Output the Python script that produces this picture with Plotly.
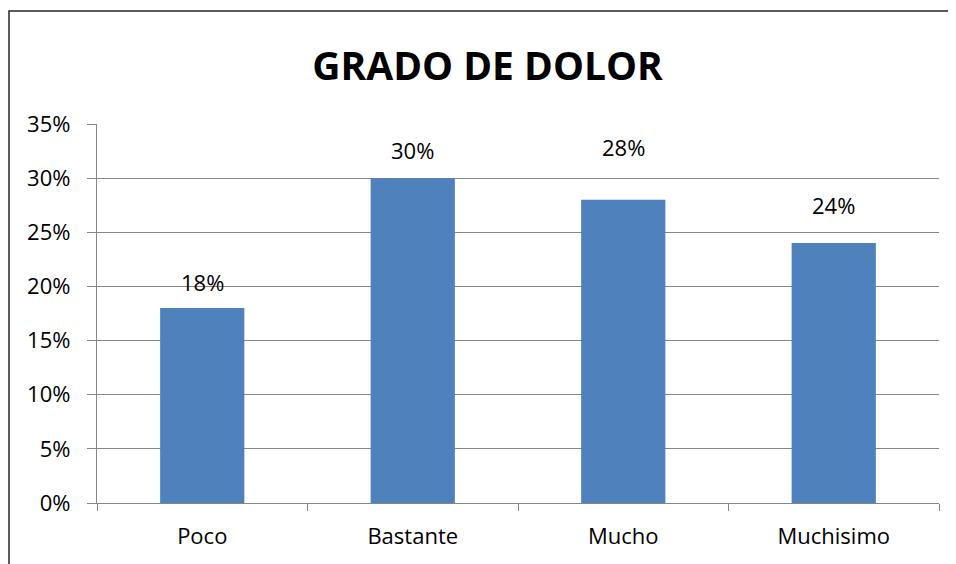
import plotly.graph_objects as go

categories = ["Poco", "Bastante", "Mucho", "Muchisimo"]
values = [0.18, 0.30, 0.28, 0.24]
labels = ["18%", "30%", "28%", "24%"]

# label placement (pixels above the bar top), as in the original
label_shift = [26, 28, 53, 38]

# the page body has an 8px margin, so the figure is drawn 8px smaller
OFF = 8
W, H = 956 - OFF, 564 - OFF
L, T = 97 - OFF, 124 - OFF
R = W - (939 - OFF)
B = H - (503 - OFF)
pw, ph = W - L - R, H - T - B

font = "Open Sans"
grid = "#868686"

fig = go.Figure()
fig.add_trace(go.Bar(
    x=categories, y=values,
    marker=dict(color="#4F81BD", line=dict(width=0)),
    width=0.4,
    hoverinfo="x+y",
))

for c, v, t, s in zip(categories, values, labels, label_shift):
    fig.add_annotation(x=c, y=v, text=t, showarrow=False, yshift=s,
                       yanchor="middle", font=dict(family=font, size=22, color="#000"))

# outer chart border
fig.add_shape(type="rect", xref="paper", yref="paper",
              x0=(9 - OFF - L) / pw, x1=(W + 5 - L) / pw,
              y0=(T + ph - H - 5) / ph, y1=(T + ph - (11 - OFF)) / ph,
              line=dict(color="#262626", width=1.5), layer="below")

fig.update_layout(
    width=W, height=H,
    margin=dict(l=L, r=R, t=T, b=B),
    paper_bgcolor="white", plot_bgcolor="white",
    showlegend=False,
    bargap=0.6,
    title=dict(text="<b>GRADO DE DOLOR</b>", x=(487.5 - OFF) / W, xanchor="center",
               y=1 - (66 - OFF) / H, yanchor="middle", yref="container",
               font=dict(family=font, size=39, color="#000")),
    xaxis=dict(
        showline=True, linecolor=grid, linewidth=1.3,
        ticks="outside", tickson="boundaries", ticklen=7, tickcolor=grid, tickwidth=1.3,
        ticklabelstandoff=13,
        tickfont=dict(family=font, size=22, color="#000"),
        showgrid=False,
    ),
    yaxis=dict(
        range=[0, 0.35], dtick=0.05, tickformat=".0%",
        showline=True, linecolor=grid, linewidth=1.3,
        showgrid=True, gridcolor=grid, gridwidth=1.3,
        ticks="outside", ticklen=9, tickcolor=grid, tickwidth=1.3,
        ticklabelstandoff=12,
        tickfont=dict(family=font, size=22, color="#000"),
        zeroline=False,
    ),
)

fig.write_html("out.html")
